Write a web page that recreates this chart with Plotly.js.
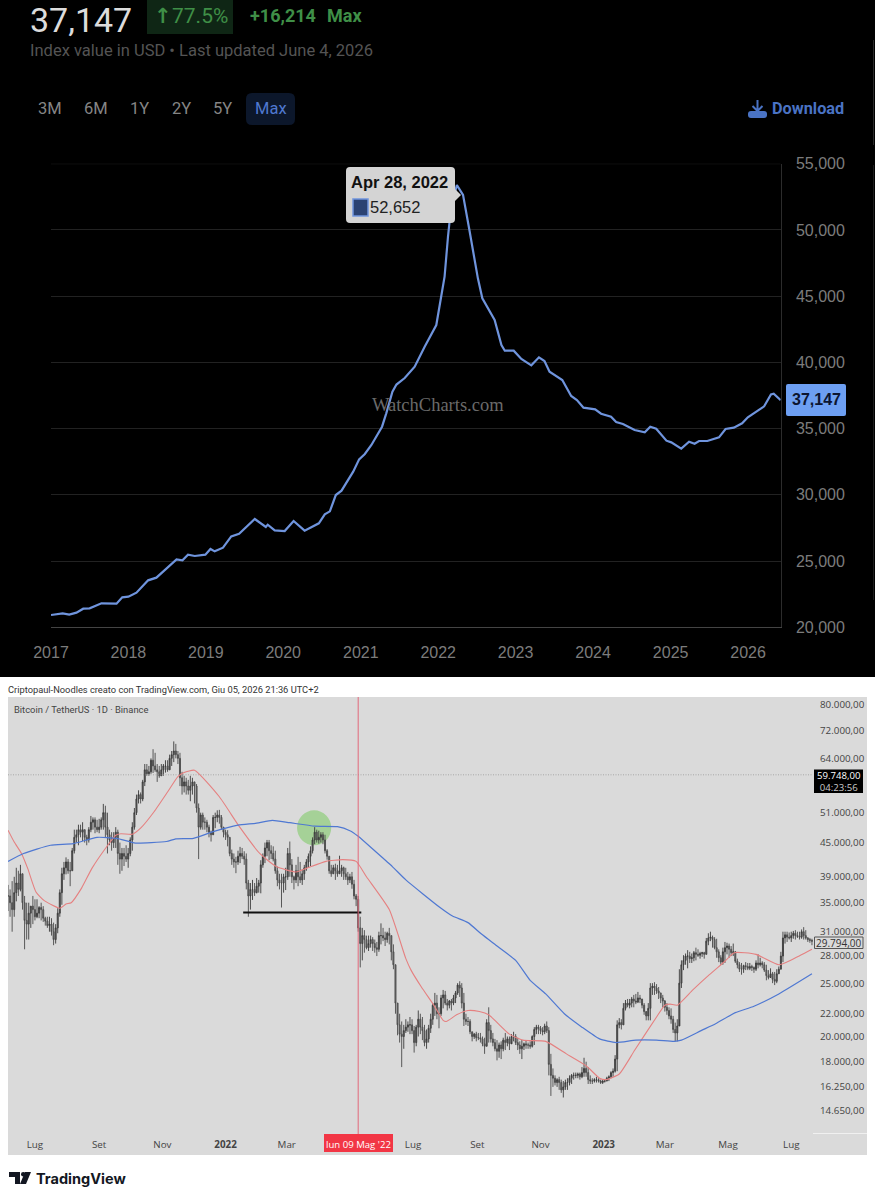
<!DOCTYPE html>
<html><head><meta charset="utf-8">
<script src="https://cdn.plot.ly/plotly-3.0.1.min.js"></script>
<style>html,body{margin:0;padding:0;background:#fff}#c{width:875px;height:1200px}</style>
</head><body><div id="c"></div>
<script>
// ---------- Top chart: index value in USD ----------
const indexDates = ["2017-01-01","2017-01-27","2017-02-25","2017-03-28","2017-05-01","2017-06-02","2017-07-02","2017-08-27","2017-11-06","2017-12-03","2018-01-01","2018-02-08","2018-04-04","2018-05-13","2018-08-16","2018-09-13","2018-10-09","2018-11-10","2018-12-30","2019-01-23","2019-02-12","2019-03-23","2019-05-01","2019-06-07","2019-08-20","2019-10-11","2019-10-20","2019-11-22","2020-01-08","2020-02-19","2020-04-11","2020-06-17","2020-07-15","2020-08-08","2020-09-05","2020-10-02","2020-11-26","2020-12-24","2021-01-20","2021-02-20","2021-04-11","2021-05-01","2021-05-30","2021-06-18","2021-07-27","2021-09-12","2021-10-29","2021-12-23","2022-01-31","2022-02-16","2022-03-03","2022-03-30","2022-04-28","2022-05-28","2022-07-07","2022-07-28","2022-09-24","2022-10-26","2022-11-11","2022-12-23","2023-01-28","2023-03-16","2023-04-21","2023-05-17","2023-06-10","2023-08-09","2023-09-20","2023-10-17","2023-11-17","2024-01-11","2024-02-08","2024-03-26","2024-04-19","2024-05-21","2024-07-15","2024-09-01","2024-09-27","2024-10-25","2024-12-12","2025-01-04","2025-02-20","2025-03-29","2025-04-24","2025-05-15","2025-06-23","2025-08-17","2025-09-17","2025-10-26","2025-12-04","2025-12-31","2026-03-18","2026-04-19","2026-05-02","2026-06-04"];
const indexValues = [20929,21004,21057,20953,21104,21406,21432,21809,21784,22262,22312,22614,23546,23747,25131,25055,25483,25382,25483,25911,25735,26011,26867,27068,28176,27572,27748,27320,27270,28025,27295,27849,28528,28755,29987,30314,31748,32680,33083,33762,35146,36153,37788,38325,38820,39673,41183,42821,46467,49487,51752,53389,52652,49992,46344,44834,43198,41311,40883,40883,40254,39776,40380,40103,39297,38669,37461,37159,36580,36455,36127,35901,35498,35347,34894,34718,35146,34995,34089,33963,33485,34013,33862,34064,34064,34341,34970,35070,35398,35851,36681,37587,37637,37147];
const indexYearTicks = ["2017-01-01","2018-01-01","2019-01-01","2020-01-01","2021-01-01","2022-01-01","2023-01-01","2024-01-01","2025-01-01","2026-01-01"];
const indexYearLabels = ["2017","2018","2019","2020","2021","2022","2023","2024","2025","2026"];
const indexValueTicks = [20000,25000,30000,35000,40000,45000,50000,55000];
const rangeButtons = ["3M","6M","1Y","2Y","5Y","Max"];

// ---------- Bottom chart: Bitcoin / TetherUS, prices in thousands of USD ----------
// Bars read every 4 days, from the first bar on
const btcFirstBar = "2021-06-05";
const btcHigh = [37.7,38.3,40.5,41,36,35,36,35.5,35,33,
33,32.2,34.2,40.5,42.3,41.5,47.5,48.5,49,46.5,
50.3,50,49.7,52.9,51,47,48,45,44,44,
49,55,55.5,62.5,62,66.5,62.5,62.5,63.5,65,
68.7,66,60.5,59,59.5,58,53,51,49.5,47.3,
51,51.6,48,47.4,43.7,42.4,44.2,43.4,38.5,38.5,
38.8,41.8,45,45.5,44.3,40.7,39.5,40.5,45.2,39.2,
42.4,40.2,42,44.3,48,47.3,47,43.8,41,41.2,
42.6,40.7,39.8,39.8,36.3,33,31.2,30.5,30.3,29.7,
32.1,31,31.5,29.4,23,21.3,21.5,21.7,20.9,22.3,
21.7,20.6,22,24,22.6,24.3,23.4,23.4,24.2,25.2,
24,21.7,20.4,20.4,20.3,19.9,22.6,20.3,19.7,19.6,
20.3,20,20.4,19.9,19.7,19.7,19.6,20.8,21,20.8,
21.3,18.6,17,16.9,16.6,16.8,17.1,17.2,17.2,18.3,
17.6,16.8,16.9,16.7,16.7,17,17.5,21.4,21.5,23.3,
23.4,23.8,24.1,23.4,22,25,25.1,24.6,23.8,23,
22.5,21.2,26.5,28.1,28.7,28.3,29,28.5,28.5,30.8,
30.5,30.1,28.1,29.7,29.5,29.5,27.7,27.2,27.3,27.2,
26.8,28.2,27.4,27,26.6,26.2,26.8,31,31,31,
31.2,31,31.6,30.3,30.1];
const btcLow = [33.8,31,35.2,36.7,28.8,30,32,32.8,32.5,31.8,
31,29.3,30.8,34.7,39.4,37.5,43,44.5,45.3,44.5,
47,46.8,46.8,47.5,43,43.5,44,39.5,40.8,40.5,
43.5,50.5,53,57,59.5,60.2,58,60,60.3,61,
63,62.5,55,55,53.5,53,42,47.5,47,45.2,
47.8,48.7,46,44.3,41,39.6,41.3,41,33,35.4,
36.4,36.4,41.3,41.8,41.6,37.5,34.3,36.9,39,37,
37.5,37.7,40,40.8,44.7,44.8,44.7,41.9,39,38.5,
39.5,38.5,37.7,37.1,34.5,26.7,28.4,28.6,28.6,28,
29.4,29.2,29.4,26.5,20.1,17.6,20.3,20.2,18.7,20,
19.7,19,20.3,21.8,20.7,22.5,22.3,22.3,23,23.6,
20.9,20.9,19.6,19.6,19.5,18.6,19.5,19.2,18.1,18.2,
18.9,18.9,19.6,18.9,18.2,19,19,19.3,20.2,20.1,
20.3,15.6,16.3,16,15.5,16,16.4,16.8,16.7,16.9,
16.4,16.4,16.5,16.4,16.5,16.6,16.9,17.3,20.6,22.3,
22.5,22.6,23,22.5,21.4,21.4,23.8,23.4,22.6,21.9,
21.1,19.6,21.5,26.4,26.6,27.2,27.5,27.7,27.7,29.3,
29,27.8,27,27.2,27.8,28,26.6,25.9,26.4,26.4,
26.1,26.6,26.6,25.3,25.7,24.8,26,27.3,29.7,29.7,
30,30,30,29.7,29.3];
const btcClose = [36,34,38,39.5,32.5,33.5,34,33.5,34,32.4,
32,30,33.5,39.5,41.5,40,46,47.5,47.5,45.5,
49,48,48,51,46.5,45,47,42,42.5,43,
48,54,54,61,60.5,62,60.5,61,62,64,
66,64,57,57,57,57,48,49,48,46.5,
50,50,47,46,42,41.5,43,42,36,37,
37.5,41,44,43.5,42,38.5,38,39,41,38.5,
39,39.5,41.5,43.5,47,46,45.5,42.5,39.5,40,
40,39.5,38.5,37.8,35.5,29.5,30,29.5,29.5,28.8,
30.5,30,30.5,27,21,20,20.8,21,19.5,21.5,
20.5,19.8,21.5,23,22,23.8,22.8,23,24,24.5,
21.5,21.3,20,19.9,19.8,19.2,20.5,19.5,18.8,19,
19.5,19.4,20,19.3,19.2,19.3,19.2,20.6,20.7,20.4,
20.5,17,16.5,16.5,16.2,16.5,17,17,16.9,17.5,
16.7,16.6,16.7,16.5,16.6,16.9,17.3,21,21,23,
23,23.2,23.5,22.8,21.8,24.5,24.5,24,23.2,22.3,
21.5,20.3,25,27.5,28,27.8,28.2,28.3,28.2,30.2,
30,28.5,27.3,29,28.8,28.5,27,26.5,26.8,26.8,
26.5,27,27,25.8,26,25.2,26.5,30.2,30.3,30.5,
30.5,30.3,30.5,30,29.8];
// Bars estimated between those, two days after each
const btcMidHigh = [37,39,40,39.5,35,34.5,35.5,34.5,34.5,33,
32.8,32,37,41.5,42,44,47.5,48.5,47.5,48,
50,49.5,50,52.5,47.5,47,47.5,44,44.5,46,
52,56,58.5,62.5,64,65.5,62,62.5,63.5,66,
68,65.5,59.5,58.5,59,57.5,51,50,48.5,50.5,
51.5,50.5,47.5,46,43,43.5,44,43,38,38,
38.5,43,45.5,44.5,43.5,39.5,39.5,44,42,41,
41.5,41,43,46,47.5,47,46.5,42.5,41,41,
41,40.5,39.5,38.5,36,31.5,30.5,30.5,30,31,
31.5,31,30.5,27,22,21,21.3,21.5,21,22,
21,21,23,23.8,23.8,24.2,23.3,23.8,25,25,
22,21.5,20.3,20.3,20,21.5,21,19.8,19.5,19.9,
20,20.2,20.2,19.6,19.5,19.5,20.1,21,20.9,21.1,
20.8,17.5,16.8,16.7,16.7,17,17.2,17.2,17.6,18,
17,16.8,16.8,16.7,16.9,17.3,18.5,21.6,23,23.4,
23.6,23.9,23.8,23,23,25,24.9,24,23.3,22.6,
21.8,21.5,27.5,28.3,28.5,28.6,28.8,28.5,30.2,31,
30.3,28.8,29,29.6,29.2,28.6,27.3,27,27.2,27,
27.5,27.8,27.3,26.4,26.2,26.5,28.5,31,30.9,31.1,
31,31.3,31.2,30.2];
const btcMidLow = [33,33,36,34,30,31.5,32.5,32.8,32.3,31.5,
30.5,29.5,33,38.5,39.5,40,45,46,45,45,
47.5,47,47.5,46,44.5,44,41,40,41.5,42.5,
47.5,53,53.5,59.5,60,60.5,59,59.5,60.5,62,
64,57,55.5,55,55,51,47.5,47.5,46,46.5,
49,47.5,45.5,42.5,40.5,41,42,37,34,36,
36.5,40.5,42.5,42,39.5,37,36.5,38.5,38,38,
38,38.5,40.5,43,45,45,43,39.5,39.5,39,
39,38.5,38,35.5,31,27.5,28.8,29,28.4,28.5,
29.8,29.6,27.5,22,19.5,19,20.4,20.2,19.2,20.2,
19.2,19.5,21,21.5,21.8,22.8,22.5,22.8,23.8,22.5,
21,20.2,19.8,19.7,19.2,19.2,19.5,18.8,18.3,18.8,
19.2,19.5,19.3,18.6,18.9,19,19.1,20.2,20.2,20.2,
17,16.2,16.2,15.8,16,16.3,16.7,16.8,16.8,16.9,
16.4,16.5,16.5,16.4,16.6,16.8,17.2,20.7,21,22.6,
22.6,22.9,23,21.9,21.4,23.8,23.9,23,22.2,21.5,
20.3,19.6,24.5,27,27.2,27.4,27.9,27.9,28.2,29.8,
28.8,27.3,27,28.2,28,27.2,26.2,26.1,26.4,26.3,
26.3,26.8,26.2,25.4,25,25,26.5,29.5,30,30.1,
30.2,30.1,30,29.6];
const btcMidClose = [35,36.5,37,35,32,34.5,33,34.3,32.8,31.8,
31,31.5,36.5,40.5,40,43.5,46.5,47,46,47.5,
49.5,47.5,49.5,48,45.5,46,43,43,42,45.5,
51,55,58,60,63.5,61,59.5,62,61,65,
65,59,58,56,58,52,50.5,49,47,50,
50.5,48,46.5,43,41.5,42.5,42.5,38,37,36.5,
38,42.5,45,43,40,38,39,43,39,40,
38.5,40.5,42.5,45.5,45.5,46.5,43.5,40,40.5,39.5,
40.5,39,39,36,31.5,30.5,29,30,29,30.5,
30.2,30.8,28.5,23,20.2,20.5,21,20.5,20.8,20.8,
19.5,20.7,22.8,22,23.5,23,23.2,23.5,24.8,23,
21.3,20.4,20.2,19.9,19.4,21.2,19.8,19,19.3,19.7,
19.8,20,19.5,19,19.4,19.3,20,20.8,20.5,20.9,
17.8,16.8,16.7,16,16.5,16.8,17,17.1,17.2,17.2,
16.6,16.7,16.6,16.6,16.8,17.2,18.2,21.2,22.5,22.8,
23.4,23.1,23.4,22.2,22.5,24.7,24.2,23.5,22.6,21.8,
20.6,20.9,27,28,27.7,28.4,28.1,28.4,29.8,30.3,
29,27.8,28.5,29.2,28.4,27.4,26.5,26.9,26.6,26.7,
27.2,27.2,26.4,25.6,25.4,26,28,30.6,30.2,30.8,
30.4,31,30.2,29.9];

const redMaDates = ["2021-06-05","2021-06-11","2021-06-18","2021-06-24","2021-07-02","2021-07-10","2021-07-25","2021-07-31","2021-08-05","2021-08-15","2021-08-25","2021-09-07","2021-09-17","2021-09-22","2021-10-03","2021-10-11","2021-10-24","2021-11-06","2021-11-16","2021-11-22","2021-12-02","2021-12-26","2022-01-14","2022-02-03","2022-02-19","2022-03-10","2022-03-20","2022-04-08","2022-04-24","2022-05-07","2022-05-17","2022-06-08","2022-06-24","2022-06-29","2022-07-09","2022-07-21","2022-07-30","2022-08-02","2022-08-12","2022-08-23","2022-09-03","2022-09-12","2022-10-02","2022-10-15","2022-11-06","2022-11-26","2022-12-15","2022-12-28","2023-01-03","2023-01-16","2023-01-31","2023-02-21","2023-03-01","2023-03-06","2023-03-13","2023-03-28","2023-04-13","2023-04-28","2023-05-07","2023-05-28","2023-06-19","2023-07-02","2023-07-21"];
const redMaValues = [47.4,45.1,43,40.4,36.6,35.3,34.2,34.8,35,37.2,40.4,43.9,46.4,46.7,46.6,47.8,51.2,55.6,59.3,60.3,60.9,54.5,48.2,43,40.7,39.8,40.4,41.6,41.9,41.6,39,34,27.7,26.4,24.6,22.8,21.4,21.3,21.9,22.3,22.2,21.9,20.2,19.7,19.6,18.6,17.7,16.8,16.7,17.1,18.9,21.7,22.8,22.9,22.8,24.3,25.9,27.4,28.4,28.2,27,27.6,28.8];
const blueMaDates = ["2021-06-05","2021-06-20","2021-07-16","2021-08-07","2021-08-30","2021-09-18","2021-10-06","2021-11-05","2021-11-14","2021-12-01","2021-12-20","2022-01-13","2022-01-31","2022-02-15","2022-03-04","2022-03-28","2022-04-19","2022-05-01","2022-05-09","2022-05-26","2022-06-11","2022-06-24","2022-07-27","2022-08-08","2022-08-23","2022-09-05","2022-09-19","2022-10-08","2022-10-22","2022-11-06","2022-11-24","2022-12-11","2022-12-28","2023-01-13","2023-02-01","2023-02-21","2023-03-10","2023-03-17","2023-04-05","2023-04-19","2023-05-08","2023-05-26","2023-06-19","2023-07-21"];
const blueMaValues = [41.6,43,44.5,44.8,46,45.8,44.9,45.2,45.7,45.8,47.1,48.4,48.8,49.4,48.9,48.2,48.1,47.3,46.2,43.3,40.7,38.5,34.3,33.1,32.2,30.7,29.3,27.5,25.3,23.9,22,20.8,19.8,19.5,19.7,19.7,19.6,19.7,20.5,21.1,22.1,22.7,23.9,26];
const supportDates = ["2022-01-18","2022-05-12"];
const supportLevel = [33.6,33.6];
const lastPriceDates = ["2021-06-05","2023-07-22"];
const lastPriceLevel = [59.748,59.748];
const btcPriceTicks = [80,72,64,51,45,39,35,31,28,25,22,20,18,16.25,14.65];
const btcPriceLabels = ["80.000,00","72.000,00","64.000,00","51.000,00","45.000,00","39.000,00","35.000,00","31.000,00","28.000,00","25.000,00","22.000,00","20.000,00","18.000,00","16.250,00","14.650,00"];
const btcTimeTicks = ["2021-07-01","2021-09-01","2021-11-01","2022-01-01","2022-03-01","2022-07-01","2022-09-01","2022-11-01","2023-01-01","2023-03-01","2023-05-01","2023-07-01"];
const btcTimeLabels = ["Lug","Set","Nov","<b>2022</b>","Mar","Lug","Set","Nov","<b>2023</b>","Mar","Mag","Lug"];

// ---------- Helpers ----------
const W = 875, H = 1200;
const px = x => x / W, py = y => 1 - y / H;
// merge the 4-day bars and the bars between them into one two-day series
const barDates = [], barHigh = [], barLow = [], barClose = [];
btcClose.forEach((c, i) => {
  const d = new Date(btcFirstBar + "T00:00:00Z");
  d.setUTCDate(d.getUTCDate() + 4 * i);
  barDates.push(d.toISOString().slice(0, 10));
  barHigh.push(btcHigh[i]); barLow.push(btcLow[i]); barClose.push(c);
  if (i < btcMidClose.length) {
    d.setUTCDate(d.getUTCDate() + 2);
    barDates.push(d.toISOString().slice(0, 10));
    barHigh.push(btcMidHigh[i]); barLow.push(btcMidLow[i]); barClose.push(btcMidClose[i]);
  }
});
const barOpen = barClose.map((c, i) => i === 0 ? c : barClose[i - 1]);

function rect(x0, y0, x1, y1, fill, layer, line) {
  return {type:"rect", xref:"paper", yref:"paper", x0:px(x0), x1:px(x1), y0:py(y0), y1:py(y1),
    fillcolor:fill, line:line || {width:0}, layer:layer || "below"};
}
function roundRect(x0, y0, x1, y1, r, fill, layer) {
  const P = (x, y) => px(x) + " " + py(y);
  const path = "M " + P(x0 + r, y0) + " L " + P(x1 - r, y0) + " Q " + P(x1, y0) + " " + P(x1, y0 + r) +
    " L " + P(x1, y1 - r) + " Q " + P(x1, y1) + " " + P(x1 - r, y1) + " L " + P(x0 + r, y1) +
    " Q " + P(x0, y1) + " " + P(x0, y1 - r) + " L " + P(x0, y0 + r) + " Q " + P(x0, y0) + " " + P(x0 + r, y0) + " Z";
  return {type:"path", xref:"paper", yref:"paper", path, fillcolor:fill, line:{width:0}, layer:layer || "above"};
}
function poly(points, fill, layer) {
  const path = points.map((p, i) => (i ? "L " : "M ") + px(p[0]) + " " + py(p[1])).join(" ") + " Z";
  return {type:"path", xref:"paper", yref:"paper", path, fillcolor:fill, line:{width:0}, layer:layer || "above"};
}
function label(text, x, y, size, color, family, anchor) {
  return {text, x:px(x), y:py(y), xref:"paper", yref:"paper", xanchor:anchor || "left", yanchor:"middle",
    showarrow:false, font:{size, color, family:family || "Roboto"}, borderpad:0, borderwidth:0};
}

// ---------- Traces ----------
const lineBlue = "#6f94dd";
const traces = [
  {type:"scatter", mode:"lines", x:indexDates, y:indexValues, xaxis:"x", yaxis:"y",
   line:{color:lineBlue, width:2.2}, hoverinfo:"skip", cliponaxis:false},
  {type:"scatter", mode:"lines", x:lastPriceDates, y:lastPriceLevel, xaxis:"x2", yaxis:"y2",
   line:{color:"#9a9a9a", width:0.8, dash:"1px,1.5px"}, hoverinfo:"skip"},
  {type:"candlestick", x:barDates, open:barOpen, high:barHigh, low:barLow, close:barClose, xaxis:"x2", yaxis:"y2",
   whiskerwidth:0, increasing:{line:{color:"#3a3a3a", width:0.9}, fillcolor:"#666"},
   decreasing:{line:{color:"#4a4a4a", width:0.9}, fillcolor:"#777"}, hoverinfo:"skip"},
  {type:"scatter", mode:"lines", x:redMaDates, y:redMaValues, xaxis:"x2", yaxis:"y2",
   line:{color:"#e58080", width:1.1, shape:"spline", smoothing:0.5}, hoverinfo:"skip"},
  {type:"scatter", mode:"lines", x:blueMaDates, y:blueMaValues, xaxis:"x2", yaxis:"y2",
   line:{color:"#4f78d2", width:1.2, shape:"spline", smoothing:0.5}, hoverinfo:"skip"},
  {type:"scatter", mode:"lines", x:supportDates, y:supportLevel, xaxis:"x2", yaxis:"y2",
   line:{color:"#111", width:2}, hoverinfo:"skip"}
];

// ---------- Shapes ----------
const shapes = [
  rect(0, 0, 875, 677, "#000"),
  rect(8, 697, 867, 1155, "#dadada"),
  rect(147, 0, 233, 34, "#0f2615"),
  roundRect(246, 93, 295, 125, 6, "#0c172b", "below"),
  rect(873, 40, 874, 145, "#2a2a2a"),
  rect(873, 165, 874, 600, "#1c1c1c"),
  // top gridline of the index chart
  {type:"line", xref:"x", yref:"y", x0:"2017-01-01", x1:"2026-06-04", y0:55000, y1:55000, line:{color:"#222", width:1}, layer:"below"},
  // circle highlight on the retest, tied to the chart's axes
  {type:"circle", xref:"x2", yref:"y2", x0:"2022-03-11", x1:"2022-04-13", y0:44.5, y1:51.5,
   fillcolor:"#a5d197", line:{width:0}, layer:"below"},
  // date cursor
  {type:"line", xref:"x2", yref:"paper", x0:"2022-05-09", x1:"2022-05-09", y0:py(1134), y1:py(697),
   line:{color:"#e2697a", width:1}, layer:"above"},
  rect(324, 1134, 393, 1152, "#f23645", "above"),
  // last-price tag
  rect(814, 769.5, 863, 793, "#000", "above"),
  rect(814.5, 937, 863, 948.5, "#dadada", "above", {color:"#555", width:1}),
  rect(813, 1133, 867, 1134, "#f0f0f0", "above"),
  // tooltip
  roundRect(346, 167, 455, 223, 4, "#d4d4d4"),
  poly([[455, 189], [461, 195], [455, 201]], "#d4d4d4"),
  rect(353, 199, 368, 216, "#2b4272", "above", {color:"#6f94dd", width:1.5}),
  // value tag at the end of the line
  roundRect(786, 384, 846, 416, 2, "#6d9ff2"),
  // download icon
  {type:"path", xref:"paper", yref:"paper", layer:"above", fillcolor:"rgba(0,0,0,0)", line:{color:"#4a73c4", width:2},
   path:"M " + px(757.5) + " " + py(100) + " L " + px(757.5) + " " + py(110) + " M " + px(752.5) + " " + py(106) + " L " + px(757.5) + " " + py(111) + " L " + px(762.5) + " " + py(106)},
  roundRect(748, 111, 767, 118, 3, "#4a73c4"),
  // TradingView mark
  poly([[9, 1172], [20, 1172], [20, 1184], [15, 1184], [15, 1177], [9, 1177]], "#131722"),
  {type:"circle", xref:"paper", yref:"paper", x0:px(21), x1:px(25.5), y0:py(1176.5), y1:py(1172), fillcolor:"#131722", line:{width:0}, layer:"above"},
  poly([[25, 1172], [31, 1172], [26, 1184], [20, 1184]], "#131722")
];

// ---------- Text ----------
const gray = "#7c7c7c";
const green = "#3f8f47";
const annotations = [
  label("37,147", 30, 20, 34, "#dcdcdc"),
  label("<b>↑</b>", 154, 16, 21, green, "DejaVu Sans"),
  label("77.5%", 172, 16, 21, green),
  label("<b>+16,214</b>", 250, 16, 18, green),
  label("<b>Max</b>", 327, 16, 18, green),
  label("Index value in USD • Last updated June 4, 2026", 30, 51, 16.5, "#545454"),
  label("<b>Download</b>", 772, 109, 16.3, "#4a73c4"),
  label("<b>Apr 28, 2022</b>", 351, 182, 16.5, "#111", "Liberation Sans"),
  label("52,652", 370, 207, 16.5, "#222", "Liberation Sans"),
  label("WatchCharts.com", 438, 405, 18.5, "#6a6a6a", "Liberation Serif", "center"),
  label("<b>37,147</b>", 816, 400, 16, "#0c1530", "Liberation Sans", "center"),
  label("Criptopaul-Noodles creato con TradingView.com, Giu 05, 2026 21:36 UTC+2", 8, 689, 9.3, "#333", "Roboto"),
  label("Bitcoin / TetherUS · 1D · Binance", 14, 709, 9.4, "#444", "Roboto"),
  label("59.748,00<br><span style=\"color:#ccc\">04:23:56</span>", 838.5, 781, 9.6, "#fff", "Open Sans", "center"),
  label("29.794,00", 839, 942.5, 10, "#333", "Open Sans", "center"),
  label("lun 09 Mag '22", 358.5, 1144, 9.6, "#fff", "Open Sans", "center"),
  label("<b>TradingView</b>", 36, 1178, 14.5, "#131722", "Inter")
];
const btnX = [38, 84, 130, 172, 213, 255];
rangeButtons.forEach((b, i) => annotations.push(
  label(b, btnX[i], 108.5, 16.5, b === "Max" ? "#4f78cf" : "#858585")));

// ---------- Layout ----------
const layout = {
  width:W, height:H, margin:{l:0, r:0, t:0, b:0, pad:0}, autosize:false, showlegend:false,
  paper_bgcolor:"#fff", plot_bgcolor:"rgba(0,0,0,0)", hovermode:false, dragmode:false,
  xaxis:{domain:[px(51), px(780.7)], range:["2017-01-01","2026-06-04"], type:"date", anchor:"y",
    tickvals:indexYearTicks, ticktext:indexYearLabels, showgrid:false, zeroline:false,
    showline:true, linecolor:"#444", linewidth:1, ticks:"", ticklabelstandoff:10,
    tickfont:{family:"Liberation Sans", size:16, color:gray}},
  yaxis:{domain:[py(627.3), py(163.7)], range:[20000,55000], anchor:"x", side:"right",
    tickvals:indexValueTicks, tickformat:",d", gridcolor:"#222", gridwidth:1, zeroline:false,
    showline:true, linecolor:"#2c2c2c", linewidth:1, ticks:"", ticklabelstandoff:11,
    tickfont:{family:"Liberation Sans", size:16, color:gray}},
  xaxis2:{domain:[px(8), px(813)], range:["2021-06-05","2023-07-22"], type:"date", anchor:"y2",
    tickvals:btcTimeTicks, ticktext:btcTimeLabels, showgrid:false, zeroline:false, showline:false,
    ticks:"", ticklabelstandoff:4, rangeslider:{visible:false},
    tickfont:{family:"Open Sans", size:9.8, color:"#444"}},
  yaxis2:{domain:[py(1133), py(697)], type:"log", range:[Math.log10(13.36), Math.log10(82.72)], anchor:"x2", side:"right",
    tickvals:btcPriceTicks, ticktext:btcPriceLabels, showgrid:false, zeroline:false, showline:false,
    ticks:"", ticklabelstandoff:6, tickfont:{family:"Open Sans", size:9.8, color:"#444"}},
  shapes, annotations
};
Plotly.newPlot("c", traces, layout, {displayModeBar:false, staticPlot:true, responsive:false});
</script></body></html>
